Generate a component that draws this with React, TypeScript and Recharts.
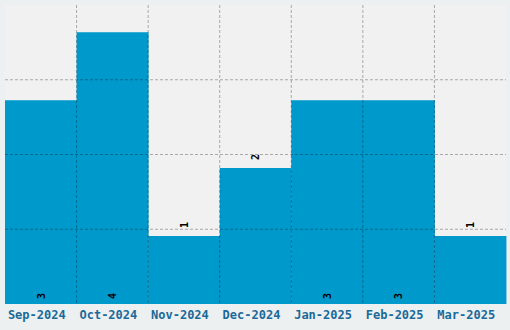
import React from "react";
import { BarChart, Bar, XAxis, YAxis, CartesianGrid, LabelList } from "recharts";

const months = ["Sep-2024", "Oct-2024", "Nov-2024", "Dec-2024", "Jan-2025", "Feb-2025", "Mar-2025"];
const counts = [3, 4, 1, 2, 3, 3, 1];
const yTicks = [1.1, 2.2, 3.3];
const yMax = 4.4;

const data = months.map((m, i) => ({ month: m, count: counts[i] }));

const FONT = "'DejaVu Sans Mono', monospace";

const ValueLabel = (props: any) => {
  const { x, y, width, height, value } = props;
  const cx = x + width / 2;
  const inside = value >= 3;
  const cy = inside ? y + height - 8 : y - 11;
  return (
    <text
      x={cx}
      y={cy}
      transform={`rotate(-90, ${cx}, ${cy})`}
      textAnchor="middle"
      dominantBaseline="central"
      fontFamily={FONT}
      fontWeight="bold"
      fontSize={10}
      fill="#000"
    >
      {value}
    </text>
  );
};

const vGen = ({ offset }: any) => {
  const n = months.length;
  const step = offset.width / n;
  const pts: number[] = [];
  for (let i = 1; i < n; i++) pts.push(offset.left + step * i);
  return pts;
};

const hGen = ({ yAxis, offset }: any) => {
  const s = yAxis && yAxis.scale;
  if (typeof s === "function") return yTicks.map((t) => s(t));
  if (s && typeof s.map === "function") return yTicks.map((t) => s.map(t));
  return yTicks.map((t) => offset.top + offset.height * (1 - t / yMax));
};

export default function App() {
  return (
    <div style={{ position: "absolute", left: 0, top: 0, width: 510, height: 330, background: "#edf0f0" }}>
      <BarChart
        width={510}
        height={330}
        data={data}
        margin={{ top: 5, right: 4, left: 5, bottom: 0 }}
        barCategoryGap={0}
      >
        <CartesianGrid fill="#f1f1f1" stroke="none" />
        <XAxis
          dataKey="month"
          axisLine={false}
          tickLine={false}
          height={26}
          interval={0}
          tick={{ fontFamily: FONT, fontWeight: "bold", fontSize: 12, fill: "#1a6a9a", dx: -4 }}
          tickMargin={0}
        />
        <YAxis hide domain={[0, yMax]} ticks={yTicks} type="number" />
        <Bar dataKey="count" fill="#0099cc" isAnimationActive={false}>
          <LabelList dataKey="count" content={ValueLabel} />
        </Bar>
        <CartesianGrid
          stroke="rgba(0,0,0,0.3)"
          strokeDasharray="3 2"
          verticalCoordinatesGenerator={vGen}
          horizontalCoordinatesGenerator={hGen}
          zIndex={1000}
        />
      </BarChart>
    </div>
  );
}
